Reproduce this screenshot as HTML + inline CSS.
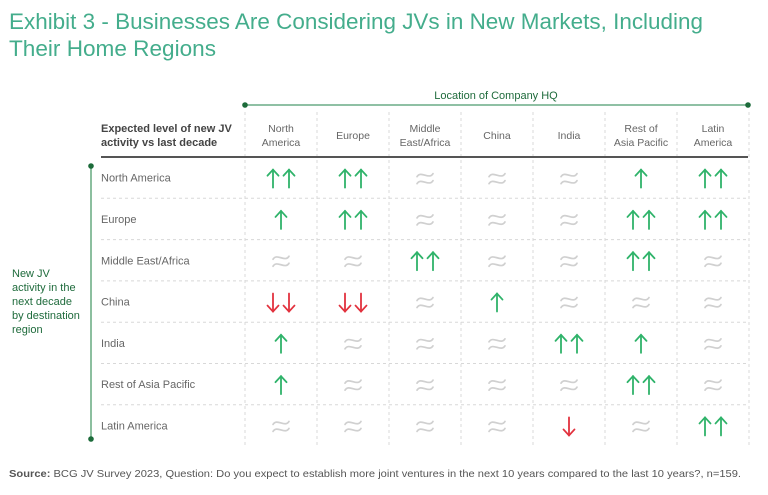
<!DOCTYPE html>
<html><head><meta charset="utf-8"><style>
body{margin:0;background:#fff;}
svg{display:block;font-family:"Liberation Sans",sans-serif;}
</style></head><body>
<svg id="chart" width="768" height="495" viewBox="0 0 768 495" xmlns="http://www.w3.org/2000/svg">
<text x="9" y="29" font-size="22" fill="#44ad8c" textLength="694" lengthAdjust="spacingAndGlyphs">Exhibit 3 - Businesses Are Considering JVs in New Markets, Including</text>
<text x="9" y="56" font-size="22" fill="#44ad8c" textLength="207" lengthAdjust="spacingAndGlyphs">Their Home Regions</text>
<g id="g"></g>
<text x="9" y="477" font-size="10.5" fill="#555" textLength="732" lengthAdjust="spacingAndGlyphs"><tspan font-weight="bold">Source:</tspan> BCG JV Survey 2023, Question: Do you expect to establish more joint ventures in the next 10 years compared to the last 10 years?, n=159.</text>
</svg>
<script>
const hqRegions = [["North","America"],["Europe"],["Middle","East/Africa"],["China"],["India"],["Rest of","Asia Pacific"],["Latin","America"]];
const destRegions = ["North America","Europe","Middle East/Africa","China","India","Rest of Asia Pacific","Latin America"];
// 2 = strong increase, 1 = increase, 0 = same, -1 = decrease, -2 = strong decrease
const rowNorthAmerica = [2,2,0,0,0,1,2];
const rowEurope = [1,2,0,0,0,2,2];
const rowMiddleEast = [0,0,2,0,0,2,0];
const rowChina = [-2,-2,0,1,0,0,0];
const rowIndia = [1,0,0,0,2,1,0];
const rowRestAsia = [1,0,0,0,0,2,0];
const rowLatinAmerica = [0,0,0,0,-1,0,2];
const matrix = [rowNorthAmerica,rowEurope,rowMiddleEast,rowChina,rowIndia,rowRestAsia,rowLatinAmerica];

const NS="http://www.w3.org/2000/svg";
const g=document.getElementById('g');
function mk(tag,attrs,parent){const e=document.createElementNS(NS,tag);for(const k in attrs)e.setAttribute(k,attrs[k]);(parent||g).appendChild(e);return e;}
const colX0=245,colW=72,rowY0=157,rowH=41.3;
const xCol=i=>colX0+colW*i+colW/2;
const yRow=j=>rowY0+rowH*j+rowH/2;

let e=mk('line',{x1:245,y1:105,x2:748,y2:105,stroke:'#6aab86','stroke-width':1.5});


e=mk('circle',{cx:245,cy:105,r:2.8,fill:'#1c6b3a'});


e=mk('circle',{cx:748,cy:105,r:2.8,fill:'#1c6b3a'});


e=mk('text',{x:496,y:99,'font-size':11,fill:'#1f6b3c','text-anchor':'middle'});
e.textContent='Location of Company HQ';



e=mk('line',{x1:91,y1:166,x2:91,y2:439,stroke:'#8cbf9f','stroke-width':2});


e=mk('circle',{cx:91,cy:166,r:2.8,fill:'#1c6b3a'});


e=mk('circle',{cx:91,cy:439,r:2.8,fill:'#1c6b3a'});


["New JV","activity in the","next decade","by destination","region"].forEach((t,i)=>{
  const tx=mk('text',{x:12,y:277+i*14,'font-size':11,fill:'#1f6b3c'});
  tx.textContent=t;
  
  
});

["Expected level of new JV","activity vs last decade"].forEach((t,i)=>{
  const tx=mk('text',{x:101,y:132+i*14,'font-size':11,'font-weight':'bold',fill:'#444'});
  tx.textContent=t;
  
  
});
hqRegions.forEach((lines,i)=>{
  lines.forEach((t,k)=>{
    const y=lines.length===1?139:132+k*14;
    const tx=mk('text',{x:xCol(i),y:y,'font-size':10.5,fill:'#666','text-anchor':'middle'});
    tx.textContent=t;
    
    
  });
});

for(let i=0;i<=7;i++){
  const l=mk('line',{x1:colX0+colW*i,y1:112,x2:colX0+colW*i,y2:447,stroke:'#d8d8d8','stroke-dasharray':'3,3','stroke-width':1});
  
  
}
for(let j=1;j<7;j++){
  const l=mk('line',{x1:101,y1:rowY0+rowH*j,x2:748,y2:rowY0+rowH*j,stroke:'#d8d8d8','stroke-dasharray':'3,3','stroke-width':1});
  
  
}
e=mk('line',{x1:101,y1:157,x2:748,y2:157,stroke:'#555','stroke-width':2});



destRegions.forEach((t,j)=>{
  const tx=mk('text',{x:101,y:yRow(j)+4,'font-size':11,fill:'#666'});
  tx.textContent=t;
  
  
});

function arrow(cx,cy,up,color){
  const a=mk('g',{stroke:color,'stroke-width':1.8,fill:'none','stroke-linecap':'round'});
  
  
  const t=cy-9,b=cy+9;
  mk('line',{x1:cx,y1:t,x2:cx,y2:b},a);
  if(up)mk('polyline',{points:`${cx-5.5},${t+6} ${cx},${t} ${cx+5.5},${t+6}`},a);
  else mk('polyline',{points:`${cx-5.5},${b-6} ${cx},${b} ${cx+5.5},${b-6}`},a);
}
function approx(cx,cy){
  const a=mk('g',{stroke:'#d0d0d0','stroke-width':1.7,fill:'none','stroke-linecap':'round'});
  
  
  [-3.5,3.5].forEach(d=>{
    mk('path',{d:`M${cx-8},${cy+d+1.5} C${cx-4},${cy+d-5} ${cx+4},${cy+d+5} ${cx+8},${cy+d-1.5}`},a);
  });
}
matrix.forEach((row,j)=>{
  row.forEach((v,i)=>{
    const cx=xCol(i),cy=yRow(j)+1;
    if(v===0){approx(cx,cy);}
    else{
      const up=v>0,col=up?'#2fb36a':'#e2323e',n=Math.abs(v);
      if(n===1)arrow(cx,cy,up,col);
      else{arrow(cx-8,cy,up,col);arrow(cx+8,cy,up,col);}
    }
  });
});
</script>
</body></html>
